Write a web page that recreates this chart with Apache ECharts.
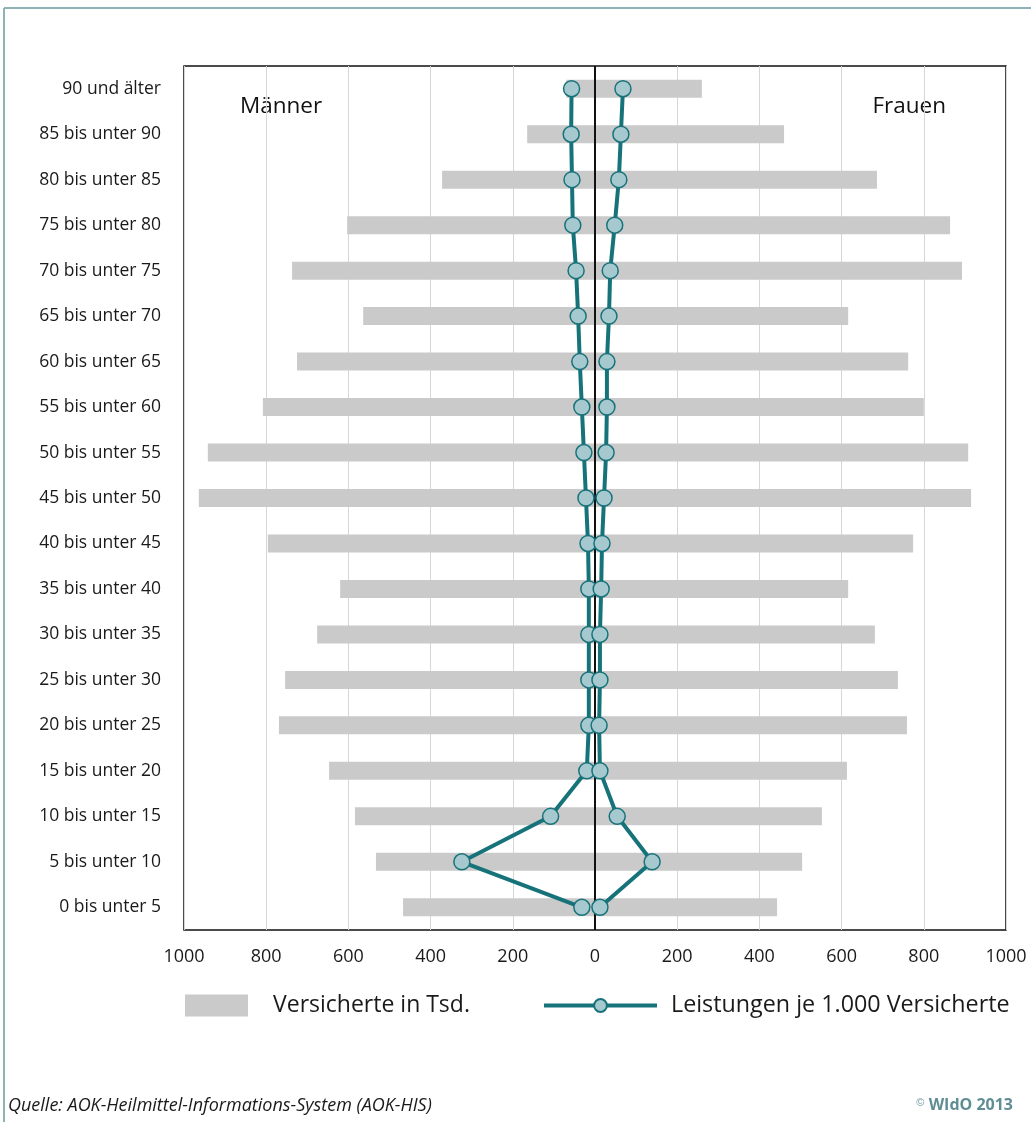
<!DOCTYPE html>
<html><head><meta charset="utf-8">
<script src="https://cdn.jsdelivr.net/npm/echarts@6/dist/echarts.min.js"></script>
<style>html,body{margin:0;padding:0;background:#fff}#c{width:1031px;height:1122px}</style>
</head><body><div id="c"></div>
<script>
const categories = ["0 bis unter 5","5 bis unter 10","10 bis unter 15","15 bis unter 20","20 bis unter 25","25 bis unter 30","30 bis unter 35","35 bis unter 40","40 bis unter 45","45 bis unter 50","50 bis unter 55","55 bis unter 60","60 bis unter 65","65 bis unter 70","70 bis unter 75","75 bis unter 80","80 bis unter 85","85 bis unter 90","90 und älter"];
const versicherteMaenner = [467,533,584,647,769,754,676,620,796,964,942,808,725,564,737,603,372,165,70];
const versicherteFrauen  = [443,504,552,613,759,737,681,616,774,915,908,800,762,616,893,864,686,460,260];
const leistungenMaenner  = [32,324,108,20,15,15,15,15,17,22,27,32,37,41,46,54,56,58,57];
const leistungenFrauen   = [12,139,54,12,10,12,12,15,17,22,27,29,29,34,37,48,58,63,68];
const xTicks = [-1000,-800,-600,-400,-200,0,200,400,600,800,1000];

const FONT = '"Open Sans", "Noto Sans", sans-serif';
const BAR = 'Versicherte in Tsd.';
const LINE = 'Leistungen je 1.000 Versicherte';
const teal = '#17737a';
const markerFill = '#a6c8cf';

const chart = echarts.init(document.getElementById('c'), null, {renderer:'canvas'});
const lineCommon = {
  type:'line', name: LINE, symbol:'circle', symbolSize:16, z:5,
  lineStyle:{color:teal, width:4},
  itemStyle:{color:markerFill, borderColor:teal, borderWidth:1.5}
};
chart.setOption({
  animation:false,
  textStyle:{fontFamily:FONT},
  grid:{left:184, right:25, top:66, bottom:192, show:true, borderColor:'#111', borderWidth:1.5, containLabel:false},
  xAxis:{type:'value', min:xTicks[0], max:xTicks[xTicks.length-1], interval:200,
    axisLine:{show:false}, axisTick:{show:false},
    splitLine:{show:true, lineStyle:{color:'#d6d6d6', width:1}},
    axisLabel:{formatter:v=>String(Math.abs(v)), fontSize:18, color:'#1a1a1a', margin:18, fontFamily:FONT}
  },
  yAxis:{type:'category', data:categories,
    axisLine:{show:false}, axisTick:{show:false}, splitLine:{show:false},
    axisLabel:{fontSize:17.5, color:'#1a1a1a', margin:23, fontFamily:FONT}
  },
  legend:[
    {data:[{name:BAR, icon:'rect'}], left:180, top:989, itemWidth:63, itemHeight:22, itemGap:0,
     textStyle:{fontSize:23, color:'#1a1a1a', fontFamily:FONT, padding:[0,0,0,20]}},
    {data:[LINE], left:537, top:989, itemWidth:113, itemHeight:16,
     lineStyle:{width:4, color:teal},
     textStyle:{fontSize:23.3, color:'#1a1a1a', fontFamily:FONT, padding:[0,0,0,9]}}
  ],
  series:[
    {type:'bar', name:BAR, data:versicherteMaenner.map(v=>-v), barWidth:18, barGap:'-100%',
     itemStyle:{color:'#cacaca'}, z:2,
     markLine:{silent:true, symbol:'none', label:{show:false}, lineStyle:{color:'#111', width:2, type:'solid'}, data:[{xAxis:0}]}},
    {type:'bar', name:BAR, data:versicherteFrauen, barWidth:18, barGap:'-100%',
     itemStyle:{color:'#cacaca'}, z:2},
    Object.assign({}, lineCommon, {data:leistungenMaenner.map(v=>-v)}),
    Object.assign({}, lineCommon, {data:leistungenFrauen})
  ],
  graphic:[
    {type:'line', shape:{x1:4, y1:8, x2:1031, y2:8}, style:{stroke:'#8fb2b7', lineWidth:2}},
    {type:'line', shape:{x1:4, y1:8, x2:4, y2:1122}, style:{stroke:'#8fb2b7', lineWidth:2}},
    {type:'text', left:240, top:95, style:{text:'Männer', font:'22.5px '+FONT, fill:'#111'}},
    {type:'text', right:85, top:95, style:{text:'Frauen', font:'22.5px '+FONT, fill:'#111'}},
    {type:'text', left:8, top:1097, style:{text:'Quelle: AOK-Heilmittel-Informations-System (AOK-HIS)', font:'italic 18px '+FONT, fill:'#1a1a1a'}},
    {type:'text', right:18, top:1097, style:{text:'{s|©} WIdO 2013', rich:{s:{fontSize:11, fontWeight:'normal', fill:'#6f9aa1', verticalAlign:'top', padding:[0,0,6,0]}}, font:'bold 16px '+FONT, fill:'#5f8d94'}}
  ]
});
</script></body></html>
